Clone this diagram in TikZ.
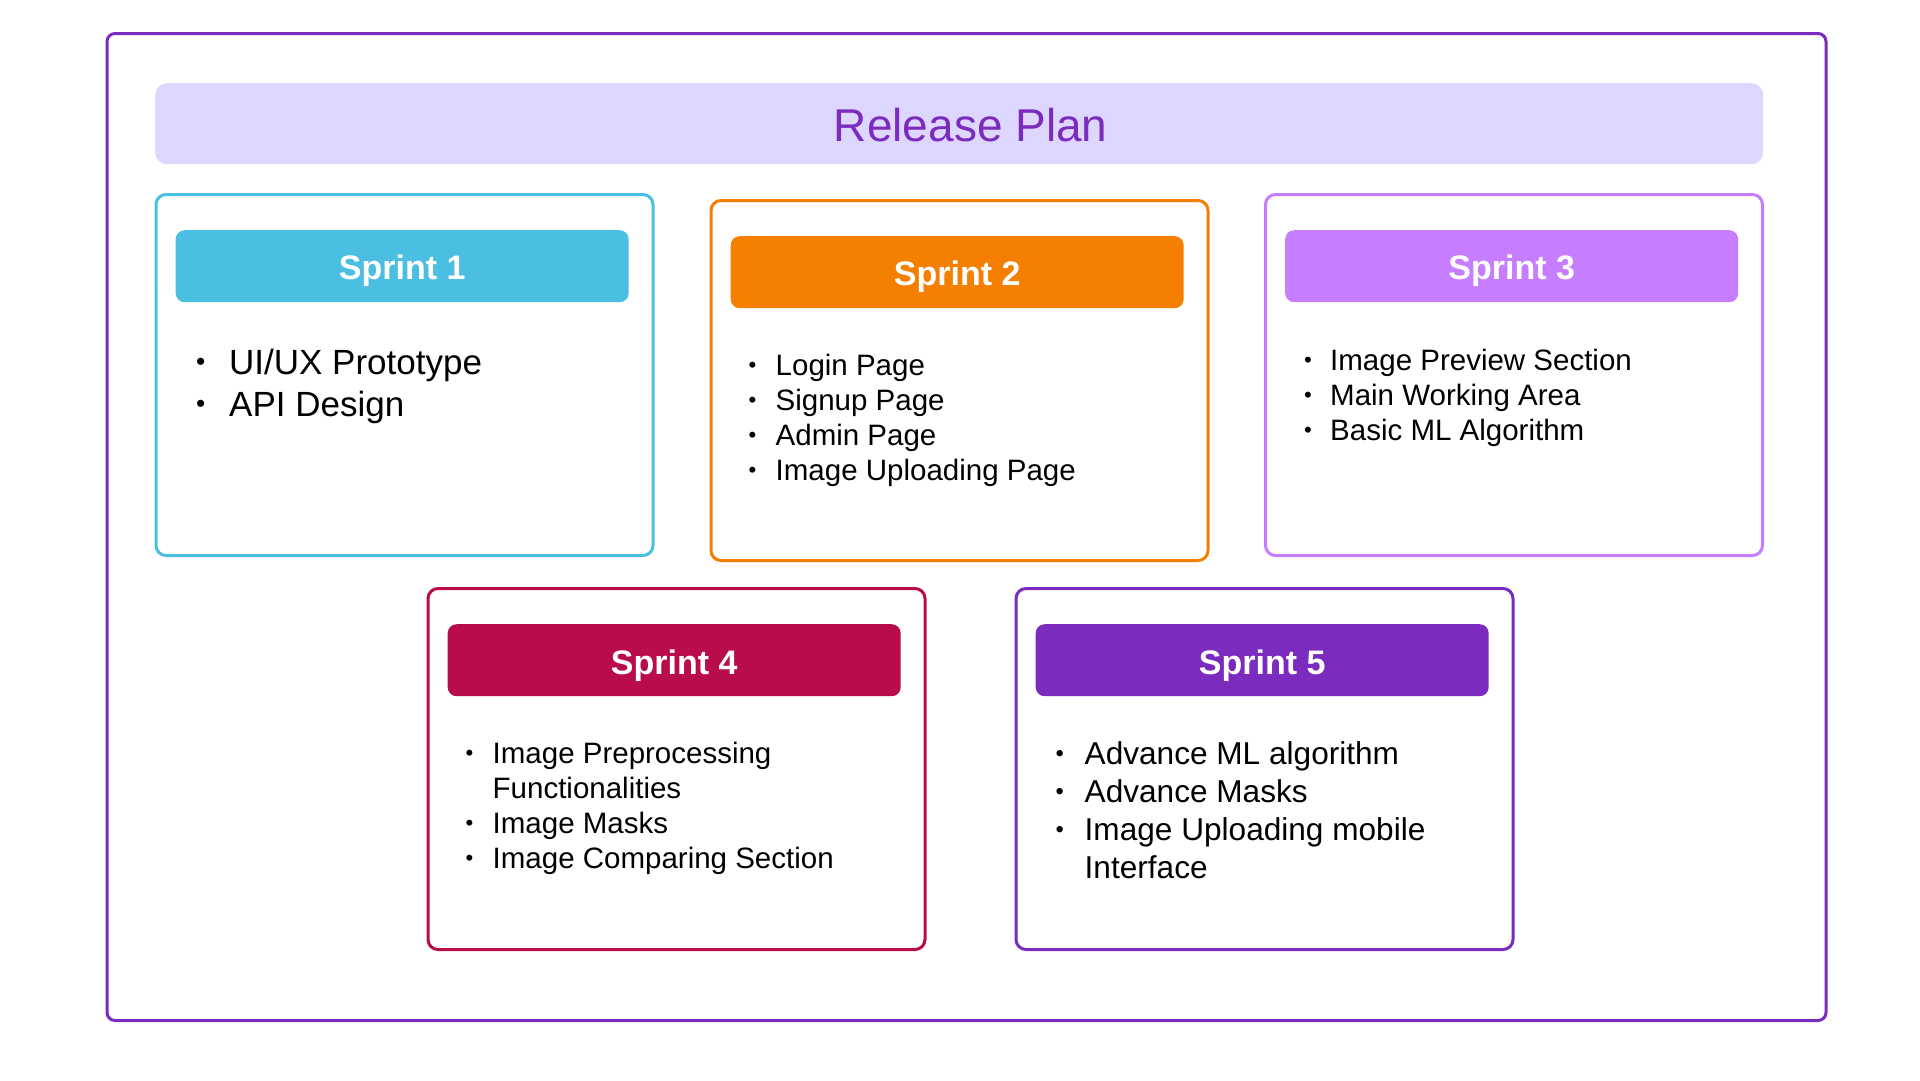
\documentclass[tikz,border=0pt]{standalone}
\usepackage{fontspec}
\setmainfont{Liberation Sans}
\usepackage{graphicx}
\usetikzlibrary{calc}
\definecolor{framepurple}{HTML}{7B2CBF}
\definecolor{titlefill}{HTML}{DDD6FE}
\definecolor{sone}{HTML}{4BBFE2}
\definecolor{stwo}{HTML}{F57F00}
\definecolor{sthree}{HTML}{C77DFF}
\definecolor{sfour}{HTML}{B90D4B}
\definecolor{sfive}{HTML}{7B2CBF}
\newcommand{\bul}{\raisebox{0.1em}{\scalebox{0.75}{\char"2022}}}
\tikzset{
  sprintbox/.style={draw=#1, line width=3pt, rounded corners=10pt, fill=white,
    minimum width=497pt, minimum height=361pt, anchor=north west, inner sep=0pt},
  sprinthead/.style={fill=#1, rounded corners=9pt, minimum width=453pt, minimum height=72pt,
    anchor=north west, inner sep=0pt},
  headtext/.style={text=white, font=\bfseries\fontsize{34}{40}\selectfont, anchor=center, inner sep=0pt},
  items/.style={anchor=base west, inner sep=0pt, text=black}
}
\begin{document}
\begin{tikzpicture}[x=1pt,y=-1pt]
\useasboundingbox (0,0) rectangle (1920,1080);
\fill[white] (0,0) rectangle (1920,1080);
% outer frame
\node[draw=framepurple, line width=3pt, rounded corners=8pt, minimum width=1719pt, minimum height=987pt,
  anchor=north west, inner sep=0pt] (frame) at (105.5,32) {};
% title
\node[fill=titlefill, rounded corners=12pt, minimum width=1608pt, minimum height=81pt,
  anchor=north west, inner sep=0pt] (titlebar) at (155,83) {};
\node[text=framepurple, font=\fontsize{46}{54}\selectfont, inner sep=0pt] (title) at ($(titlebar.center)+(11.5,1)$) {Release Plan};
% boxes
\node[sprintbox=sone] (s1) at (154.5,193) {};
\node[sprintbox=stwo, minimum height=360pt] (s2) at (709.5,199) {};
\node[sprintbox=sthree] (s3) at (1264,193) {};
\node[sprintbox=sfour] (s4) at (426.5,587) {};
\node[sprintbox=sfive] (s5) at (1014.5,587) {};
% headers
\foreach \b/\c/\t in {s1/sone/1, s2/stwo/2, s3/sthree/3, s4/sfour/4, s5/sfive/5}{
  \node[sprinthead=\c] (\b h) at ($(\b.north west)+(21,37)$) {};
  \node[headtext] (\b ht) at ($(\b h.center)+(0,5)$) {Sprint \t};
}
% items
\node[items, font=\fontsize{35}{42}\selectfont] (s1list) at ($(s1.north west)+(41.5,181)$)
  {\begin{tabular}[t]{@{}p{33pt}@{}l@{}}\bul & UI/UX Prototype\\ \bul & API Design\end{tabular}};
\node[items, font=\fontsize{29.5}{35}\selectfont] (s2list) at ($(s2.north west)+(39,176)$)
  {\begin{tabular}[t]{@{}p{27pt}@{}l@{}}\bul & Login Page\\ \bul & Signup Page\\ \bul & Admin Page\\ \bul & Image Uploading Page\end{tabular}};
\node[items, font=\fontsize{29.5}{35}\selectfont] (s3list) at ($(s3.north west)+(40,177)$)
  {\begin{tabular}[t]{@{}p{26pt}@{}l@{}}\bul & Image Preview Section\\ \bul & Main Working Area\\ \bul & Basic ML Algorithm\end{tabular}};
\node[items, font=\fontsize{29.5}{35}\selectfont] (s4list) at ($(s4.north west)+(39,176)$)
  {\begin{tabular}[t]{@{}p{27pt}@{}l@{}}\bul & Image Preprocessing\\ & Functionalities\\ \bul & Image Masks\\ \bul & Image Comparing Section\end{tabular}};
\node[items, font=\fontsize{31.6}{38}\selectfont] (s5list) at ($(s5.north west)+(41,177.6)$)
  {\begin{tabular}[t]{@{}p{29pt}@{}l@{}}\bul & Advance ML algorithm\\ \bul & Advance Masks\\ \bul & Image Uploading mobile\\ & Interface\end{tabular}};
\end{tikzpicture}
\end{document}
